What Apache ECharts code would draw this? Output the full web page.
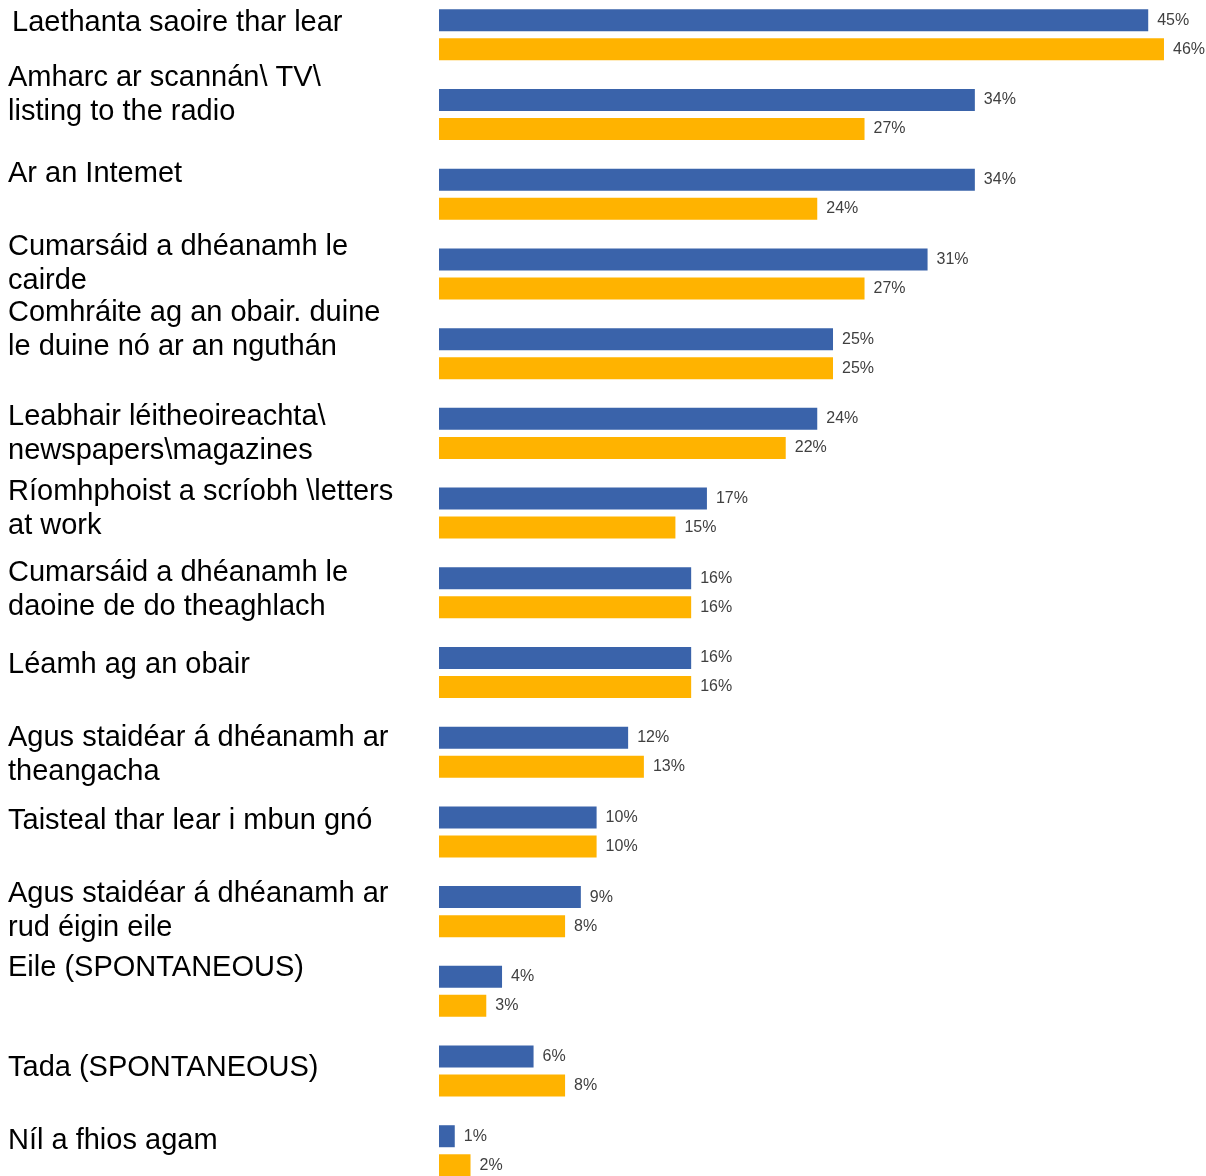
<!DOCTYPE html>
<html>
<head>
<meta charset="utf-8">
<script src="https://cdn.jsdelivr.net/npm/echarts@6/dist/echarts.min.js"></script>
<style>
  html, body { margin: 0; padding: 0; background: #ffffff; overflow: hidden; }
  #chart { width: 1206px; height: 1196px; margin-top: -5px; }
</style>
</head>
<body>
<div id="chart"></div>
<script>
// Category names (line breaks as laid out in the left column)
const categories = [
  'Laethanta saoire thar lear',
  'Amharc ar scannán\\ TV\\\nlisting to the radio',
  'Ar an Intemet',
  'Cumarsáid a dhéanamh le\ncairde',
  'Comhráite ag an obair. duine\nle duine nó ar an nguthán',
  'Leabhair léitheoireachta\\\nnewspapers\\magazines',
  'Ríomhphoist a scríobh \\letters\nat work',
  'Cumarsáid a dhéanamh le\ndaoine de do theaghlach',
  'Léamh ag an obair',
  'Agus staidéar á dhéanamh ar\ntheangacha',
  'Taisteal thar lear i mbun gnó',
  'Agus staidéar á dhéanamh ar\nrud éigin eile',
  'Eile (SPONTANEOUS)',
  'Tada (SPONTANEOUS)',
  'Níl a fhios agam'
];

// Percentages, first (blue) and second (orange) series
const seriesBlue   = [45, 34, 34, 31, 25, 24, 17, 16, 16, 12, 10, 9, 4, 6, 1];
const seriesOrange = [46, 27, 24, 27, 25, 22, 15, 16, 16, 13, 10, 8, 3, 8, 2];

// Left-column label placement relative to each category band: [dx, dy] in px
const labelShift = [
  [4, -12], [0, -19.5], [0, -20], [0, -9.5], [0, -24],
  [0, 1], [0, -4.5], [0, -3], [0, -8], [0, 3],
  [0, -11], [0, -1], [0, -23], [0, -3], [0, -10]
];

const chart = echarts.init(document.getElementById('chart'), null, { renderer: 'canvas' });

const valueLabel = {
  show: true,
  position: 'right',
  distance: 9,
  formatter: '{c}%',
  fontFamily: '"Liberation Sans Narrow", "Arial Narrow", "Liberation Sans", sans-serif',
  fontSize: 16,
  color: '#404040'
};

chart.setOption({
  animation: false,
  backgroundColor: '#ffffff',
  grid: { left: 439, top: 0, height: 1195.6, width: 756.5, containLabel: false },
  xAxis: {
    type: 'value', min: 0, max: 48,
    show: false
  },
  yAxis: {
    type: 'category',
    data: categories,
    inverse: true,
    axisLine: { show: false },
    axisTick: { show: false },
    axisLabel: { show: false },
    splitLine: { show: false }
  },
  series: [
    {
      type: 'bar', name: 'blue', data: seriesBlue,
      barWidth: 22, barGap: '32%',
      itemStyle: { color: '#3a63aa' },
      label: valueLabel
    },
    {
      type: 'bar', name: 'orange', data: seriesOrange,
      barWidth: 22, barGap: '32%',
      itemStyle: { color: '#ffb300' },
      label: valueLabel
    }
  ]
});

// Left-hand category text, anchored to each band centre of the category axis
const texts = categories.map((name, i) => {
  const yc = chart.convertToPixel({ yAxisIndex: 0 }, i);
  return {
    type: 'text',
    silent: true,
    style: {
      text: name,
      x: 8 + labelShift[i][0],
      y: yc + labelShift[i][1],
      fontFamily: '"Liberation Sans", Arial, sans-serif',
      fontSize: 29,
      lineHeight: 34,
      fill: '#000000',
      align: 'left',
      verticalAlign: 'middle'
    }
  };
});
chart.setOption({ graphic: texts });
</script>
</body>
</html>
